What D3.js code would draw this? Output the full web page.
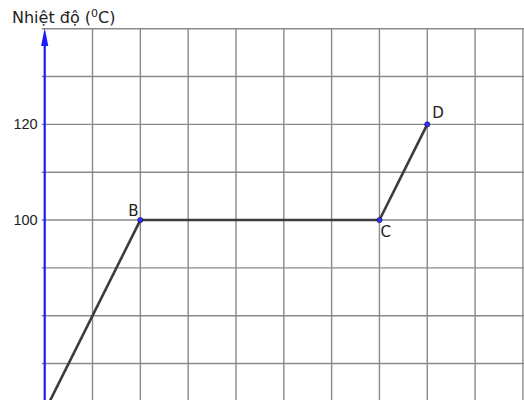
<!DOCTYPE html>
<html lang="vi">
<head>
<meta charset="UTF-8">
<script src="https://d3js.org/d3.v7.min.js"></script>
<style>
    body { margin: 0; background: #fff; }
    svg { display: block; font-family: "DejaVu Sans", sans-serif; }
</style>
</head>
<body>
<div class="content"></div>
<script>
// du lieu doc tu hinh: thoi gian (o luoi) va nhiet do
var timeVals = [0, 2, 7, 8];
var tempVals = [60, 100, 100, 120];
var pointNames = ["A", "B", "C", "D"];
var gridTemps = [70, 80, 90, 100, 110, 120, 130, 140];
var gridTimes = [1, 2, 3, 4, 5, 6, 7, 8, 9, 10];
var tickLabels = [100, 120];

var W = 524, H = 400;
var svg = d3.select(".content").append("svg")
    .attr("width", W)
    .attr("height", H);

var x = d3.scaleLinear().domain([0, 10]).range([44.7, 522.9]);
var y = d3.scaleLinear().domain([60, 140]).range([411.4, 28.7]);

// luoi doc
svg.append("g").selectAll("line")
    .data(gridTimes)
    .enter().append("line")
    .attr("x1", d => x(d)).attr("x2", d => x(d))
    .attr("y1", y(140)).attr("y2", H)
    .attr("stroke", "#8a8a8a")
    .attr("stroke-width", 1.4);

// luoi ngang (co vach nho ben trai truc)
svg.append("g").selectAll("line")
    .data(gridTemps)
    .enter().append("line")
    .attr("x1", x(0) - 3).attr("x2", W)
    .attr("y1", d => y(d)).attr("y2", d => y(d))
    .attr("stroke", "#8a8a8a")
    .attr("stroke-width", 1.4);

// nhan truc tung
svg.append("g").selectAll("text")
    .data(tickLabels)
    .enter().append("text")
    .attr("x", x(0) - 7)
    .attr("y", d => y(d) + 5)
    .attr("text-anchor", "end")
    .attr("font-family", "'Liberation Sans', Arial, sans-serif")
    .attr("font-size", 14.5)
    .attr("fill", "#222")
    .text(d => d);

// truc tung mau xanh co mui ten
svg.append("line")
    .attr("x1", x(0)).attr("x2", x(0))
    .attr("y1", H).attr("y2", 40)
    .attr("stroke", "#1a1aff")
    .attr("stroke-width", 2.2);
svg.append("path")
    .attr("d", "M" + x(0) + ",28 L" + (x(0) - 3.6) + ",46 L" + (x(0) + 3.6) + ",46 Z")
    .attr("fill", "#1a1aff");

svg.append("text")
    .attr("x", 12)
    .attr("y", 23)
    .attr("font-size", 16)
    .attr("fill", "#222")
    .html('Nhiệt độ (<tspan dy="-6" font-size="11">0</tspan><tspan dy="6">C)</tspan>');

// duong do thi
var pts = timeVals.map((t, i) => ({ t: t, v: tempVals[i], name: pointNames[i] }));
var line = d3.line().x(d => x(d.t)).y(d => y(d.v));
svg.append("path")
    .datum(pts)
    .attr("d", line)
    .attr("fill", "none")
    .attr("stroke", "#3c3c3c")
    .attr("stroke-width", 2.6);

svg.append("g").selectAll("circle")
    .data(pts.slice(1))
    .enter().append("circle")
    .attr("cx", d => x(d.t))
    .attr("cy", d => y(d.v))
    .attr("r", 2.6)
    .attr("fill", "#3030ff")
    .attr("stroke", "#1a1a55")
    .attr("stroke-width", 0.7);

// nhan diem
var labelOff = { B: [-12, -4], C: [1, 17], D: [5, -6] };
svg.append("g").selectAll("text")
    .data(pts.slice(1))
    .enter().append("text")
    .attr("x", d => x(d.t) + labelOff[d.name][0])
    .attr("y", d => y(d.v) + labelOff[d.name][1])
    .attr("font-size", 15)
    .attr("fill", "#222")
    .text(d => d.name);
</script>
</body>
</html>
